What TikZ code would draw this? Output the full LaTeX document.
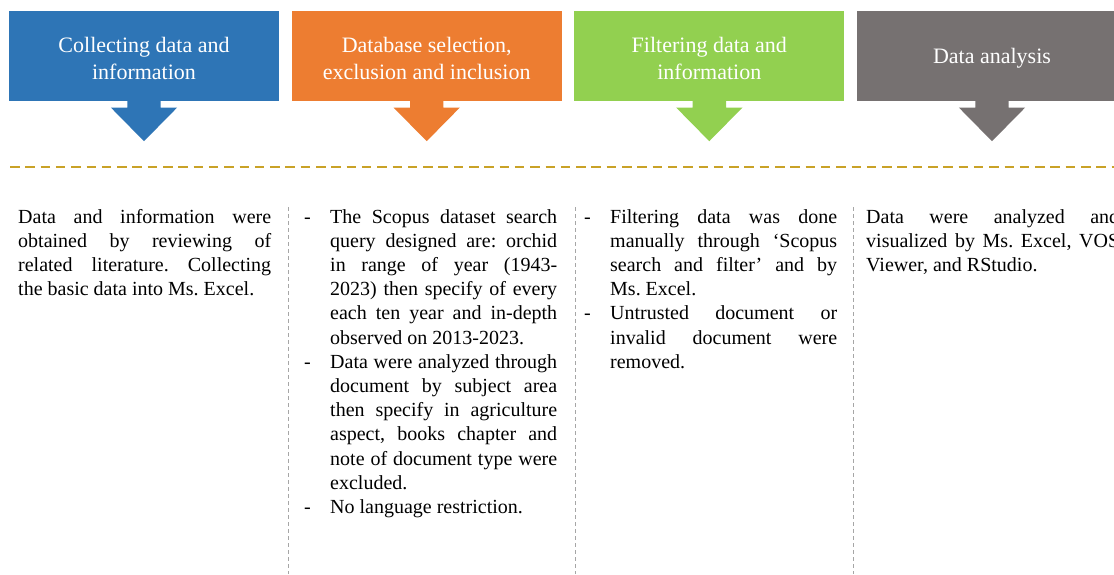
\documentclass[tikz,border=0pt]{standalone}
\usepackage{fontspec}
\setmainfont{Liberation Serif}
\usetikzlibrary{calc}
\frenchspacing
\definecolor{cblue}{HTML}{2E75B6}
\definecolor{corange}{HTML}{ED7D31}
\definecolor{cgreen}{HTML}{92D050}
\definecolor{cgray}{HTML}{767171}
\definecolor{cgold}{RGB}{201,162,39}
\definecolor{csep}{HTML}{A6A6A6}
\newcommand\jl[2][0pt]{\hbox to\hsize{\hskip#1\relax\spaceskip=.25em plus 1fil minus .05em\relax\xspaceskip=\spaceskip #2}}
\newcommand\lastl[2][0pt]{\hbox{\hskip#1\relax #2}}
\newcommand\bul[1]{\hbox to\hsize{\hbox to 26pt{-\hfil}\spaceskip=.25em plus 1fil minus .05em\relax\xspaceskip=\spaceskip #1}}
\newcommand\bullast[1]{\hbox{\hbox to 26pt{-\hfil}#1}}
\newcommand\stepdown[2]{%
  \fill[#2] ($(#1.south)+(-16.7,-0.5)$) -- ($(#1.south)+(-16.7,6.6)$) -- ($(#1.south)+(-33.2,6.6)$)
    -- ($(#1.south)+(0,40.3)$) -- ($(#1.south)+(33.2,6.6)$) -- ($(#1.south)+(16.7,6.6)$)
    -- ($(#1.south)+(16.7,-0.5)$) -- cycle;}
\begin{document}
\begin{tikzpicture}[x=1pt,y=-1pt,
  hdr/.style={minimum width=270pt,minimum height=89.7pt,inner sep=0pt},
  hdrtext/.style={inner sep=0pt,text=white,align=center,font=\fontsize{22}{27}\selectfont},
  body/.style={inner sep=0pt,anchor=base west,font=\fontsize{20}{24.2}\selectfont},
  sep/.style={draw=csep,line width=0.8pt,dash pattern=on 4pt off 3pt},
  gold/.style={draw=cgold,line width=2.4pt,dash pattern=on 9.5pt off 5.8pt}]
\useasboundingbox (0,0) rectangle (1114,574);
\clip (0,0) rectangle (1114,574);
\fill[white] (0,0) rectangle (1114,574);
% header boxes
\node[hdr,fill=cblue] (h1) at (144,55.85) {};
\node[hdr,fill=corange] (h2) at (426.7,55.85) {};
\node[hdr,fill=cgreen] (h3) at (709.3,55.85) {};
\node[hdr,fill=cgray] (h4) at (992,55.85) {};
\node[hdrtext] (h1t) at ($(h1.center)+(0,2.2)$) {Collecting data and\\information};
\node[hdrtext] (h2t) at ($(h2.center)+(0,2.2)$) {Database selection,\\exclusion and inclusion};
\node[hdrtext] (h3t) at ($(h3.center)+(0,2.2)$) {Filtering data and\\information};
\node[hdrtext] (h4t) at ($(h4.center)+(0,2.2)$) {Data analysis};
\stepdown{h1}{cblue}
\stepdown{h2}{corange}
\stepdown{h3}{cgreen}
\stepdown{h4}{cgray}
% gold dashed line
\coordinate (gl) at (10,166.7);
\coordinate (gr) at (1114,166.7);
\draw[gold] (gl) -- (gr);
% separators
\coordinate (s1a) at (288,207); \coordinate (s1b) at (288,574);
\coordinate (s2a) at (575,207); \coordinate (s2b) at (575,574);
\coordinate (s3a) at (853,207); \coordinate (s3b) at (853,574);
\draw[sep] (s1a) -- (s1b);
\draw[sep] (s2a) -- (s2b);
\draw[sep] (s3a) -- (s3b);
% body texts
\node[body] (t1) at (18,223) {\parbox[t]{253pt}{%
\jl{Data and information were}%
\jl{obtained by reviewing of}%
\jl{related literature. Collecting}%
\lastl{the basic data into Ms. Excel.}}};
\node[body] (t2) at (304,223) {\parbox[t]{253pt}{%
\bul{The Scopus dataset search}%
\jl[26pt]{query designed are: orchid}%
\jl[26pt]{in range of year (1943-}%
\jl[26pt]{2023) then specify of every}%
\jl[26pt]{each ten year and in-depth}%
\lastl[26pt]{observed on 2013-2023.}%
\bul{Data were analyzed through}%
\jl[26pt]{document by subject area}%
\jl[26pt]{then specify in agriculture}%
\jl[26pt]{aspect, books chapter and}%
\jl[26pt]{note of document type were}%
\lastl[26pt]{excluded.}%
\bullast{No language restriction.}}};
\node[body] (t3) at (584,223) {\parbox[t]{253pt}{%
\bul{Filtering data was done}%
\jl[26pt]{manually through ‘Scopus}%
\jl[26pt]{search and filter’ and by}%
\lastl[26pt]{Ms. Excel.}%
\bul{Untrusted document or}%
\jl[26pt]{invalid document were}%
\lastl[26pt]{removed.}}};
\node[body] (t4) at (866,223) {\parbox[t]{253pt}{%
\jl{Data were analyzed and}%
\jl{visualized by Ms. Excel, VOS}%
\lastl{Viewer, and RStudio.}}};
\end{tikzpicture}
\end{document}
